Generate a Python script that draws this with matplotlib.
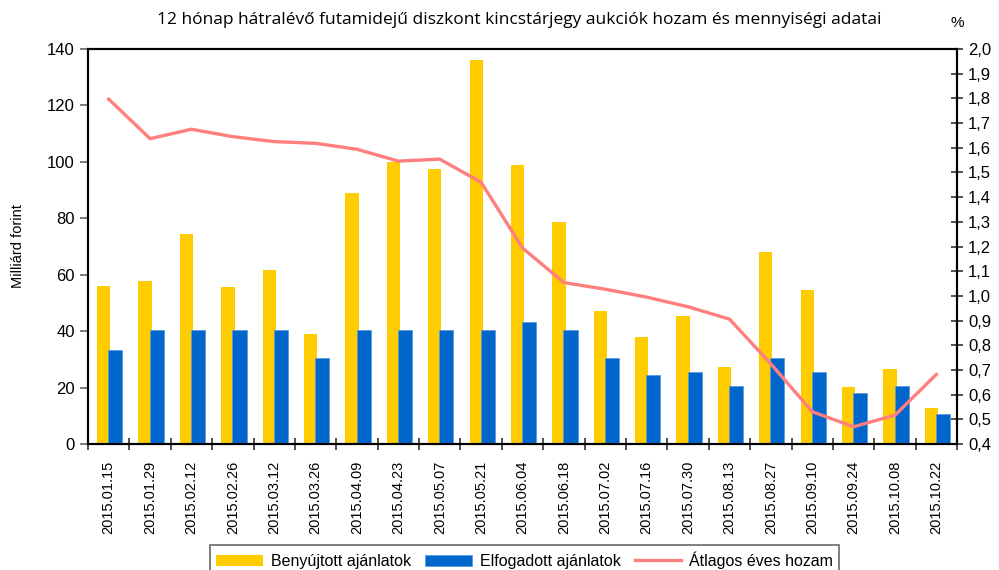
import numpy as np
import matplotlib.pyplot as plt
from matplotlib.ticker import FuncFormatter, FixedLocator

# auction dates
dates = ["2015.01.15", "2015.01.29", "2015.02.12", "2015.02.26", "2015.03.12",
         "2015.03.26", "2015.04.09", "2015.04.23", "2015.05.07", "2015.05.21",
         "2015.06.04", "2015.06.18", "2015.07.02", "2015.07.16", "2015.07.30",
         "2015.08.13", "2015.08.27", "2015.09.10", "2015.09.24", "2015.10.08",
         "2015.10.22"]

# submitted bids (billion HUF)
benyujtott = [56.1, 57.9, 74.6, 55.8, 61.8, 38.9, 89.1, 100.1, 97.3, 136.1,
              98.9, 78.8, 47.3, 37.8, 45.2, 27.3, 68.1, 54.7, 20.1, 26.7, 12.9]

# accepted bids (billion HUF)
elfogadott = [33.2, 40.5, 40.5, 40.5, 40.5, 30.6, 40.5, 40.5, 40.5, 40.5,
              43.2, 40.5, 30.5, 24.4, 25.5, 20.5, 30.5, 25.5, 18.2, 20.5, 10.5]

# average yield (%)
hozam = [1.797, 1.637, 1.675, 1.645, 1.625, 1.618, 1.594, 1.546, 1.554, 1.460,
         1.194, 1.054, 1.027, 0.995, 0.956, 0.906, 0.725, 0.531, 0.470, 0.517, 0.682]

plt.rcParams['font.family'] = ['Liberation Sans', 'DejaVu Sans']

x = np.arange(len(dates))

fig = plt.figure(figsize=(9.99, 5.70), dpi=100)
ax = fig.add_axes([0.0881, 0.221, 0.8699, 0.693])
ax2 = ax.twinx()

b1 = ax.bar(x - 0.12, benyujtott, width=0.32, color='#FFCC00', zorder=2)
b2 = ax.bar(x + 0.16, elfogadott, width=0.34, color='#0066CC',
            edgecolor='#5B9BE0', linewidth=0.6, zorder=3)
ln, = ax2.plot(x, hozam, color='#FF7F7F', linewidth=2.4, zorder=4)

ax.set_xlim(-0.5, len(dates) - 0.5)
ax.set_ylim(0, 140)
ax.set_yticks(np.arange(0, 141, 20))
ax2.set_ylim(0.4, 2.0)
ax2.set_yticks(np.arange(0.4, 2.001, 0.1))
ax2.yaxis.set_major_formatter(FuncFormatter(lambda v, p: f"{v:.1f}".replace('.', ',')))

ax.set_xticks(x)
ax.set_xticklabels(dates, rotation=90, fontsize=10.5)
ax.tick_params(axis='x', which='major', length=0, pad=12)
ax.xaxis.set_minor_locator(FixedLocator(np.arange(-0.5, len(dates), 1.0)))
ax.tick_params(axis='x', which='minor', direction='inout', length=9, width=1.2, color='#333333')
ax.tick_params(axis='y', direction='out', length=6, width=1.2, color='#666666', labelsize=12)
ax2.tick_params(axis='y', direction='inout', length=9, width=1.2, color='#333333', labelsize=12)

for a in (ax, ax2):
    for s in a.spines.values():
        s.set_linewidth(1.5)
        s.set_color('black')

ax.set_ylabel('Milliárd forint', fontsize=10.5, labelpad=16)

fig.text(0.52, 0.965, '12 hónap hátralévő futamidejű diszkont kincstárjegy aukciók hozam és mennyiségi adatai',
         ha='center', va='center', fontsize=12.5, family=['Open Sans', 'DejaVu Sans'])
fig.text(0.958, 0.96, '%', ha='center', va='center', fontsize=11)

leg = fig.legend([b1, b2, ln], ['Benyújtott ajánlatok', 'Elfogadott ajánlatok', 'Átlagos éves hozam'],
                 loc='upper left', bbox_to_anchor=(210 / 999, 1 - 545 / 570), ncol=3,
                 fontsize=11.5, frameon=True, fancybox=False, edgecolor='#444444',
                 handlelength=2.9, handleheight=0.7, handletextpad=0.5, columnspacing=0.9,
                 borderpad=0.4, borderaxespad=0)
leg.get_frame().set_linewidth(1.2)

plt.savefig('out.png', dpi=100)
